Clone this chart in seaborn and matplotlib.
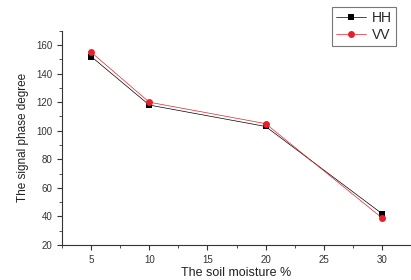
import pandas as pd
import seaborn as sns
import matplotlib.pyplot as plt
from matplotlib.ticker import MultipleLocator

moisture = [5, 10, 20, 30]
hh = [152, 118, 103, 42]
vv = [155, 120, 105, 39]

df = pd.DataFrame({
    'moisture': moisture * 2,
    'phase': hh + vv,
    'pol': ['HH'] * 4 + ['VV'] * 4,
})

sns.set_style('ticks')
plt.rcParams['font.family'] = ['Liberation Sans', 'DejaVu Sans']

fig = plt.figure(figsize=(4.11, 2.80), dpi=100)
ax = fig.add_axes([0.151, 0.125, 0.849, 0.765])

sns.lineplot(data=df, x='moisture', y='phase', hue='pol', style='pol',
             palette={'HH': 'black', 'VV': '#e8202a'},
             markers={'HH': 's', 'VV': 'o'}, dashes=False,
             markersize=5, linewidth=0.5, markeredgewidth=0, ax=ax)

ax.set_xlim(2.5, 32.5)
ax.set_ylim(20, 170)
ax.set_xticks([5, 10, 15, 20, 25, 30])
ax.set_yticks([20, 40, 60, 80, 100, 120, 140, 160])
ax.xaxis.set_minor_locator(MultipleLocator(2.5))
ax.yaxis.set_minor_locator(MultipleLocator(10))
ax.tick_params(which='major', length=3.5, width=0.8, labelsize=7, color='#333333', labelcolor='#333333')
ax.tick_params(which='minor', length=2, width=0.6, color='#333333')
sns.despine(ax=ax)
for s in ['left', 'bottom']:
    ax.spines[s].set_linewidth(0.8)
    ax.spines[s].set_color('#333333')

ax.set_xlabel('The soil moisture %', fontsize=9, color='#222222', labelpad=2)
ax.set_ylabel('The signal phase degree', fontsize=8.5, color='#222222', labelpad=5)

leg = ax.legend(loc='upper right', bbox_to_anchor=(0.964, 0.975),
                bbox_transform=fig.transFigure, fontsize=10,
                frameon=True, fancybox=False, edgecolor='#555555',
                handlelength=2.2, handletextpad=0.4, borderpad=0.3,
                labelspacing=0.2, borderaxespad=0)
leg.get_frame().set_linewidth(0.8)

fig.savefig('out.png', dpi=100)
